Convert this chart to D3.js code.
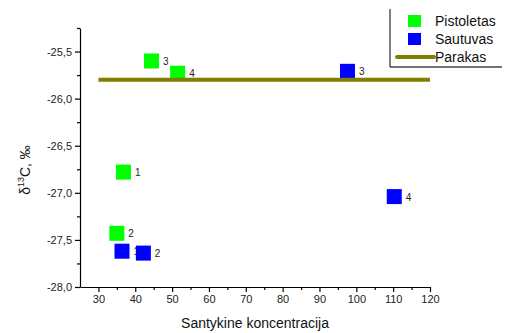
<!DOCTYPE html>
<html>
<head>
<meta charset="utf-8">
<script src="https://cdn.jsdelivr.net/npm/d3@7"></script>
<style>
  body { margin: 0; background: #fff; }
  svg { font-family: "Liberation Sans", Arial, sans-serif; }
</style>
</head>
<body>
<svg id="chart"></svg>
<script>
// data
const pistoletasX = [36.8, 35.0, 44.4, 51.5];
const pistoletasY = [-26.78, -27.43, -25.6, -25.73];
const pistoletasLabels = ["1", "2", "3", "4"];

const sautuvasX = [36.4, 42.2, 97.6, 110.3];
const sautuvasY = [-27.62, -27.64, -25.71, -27.04];
const sautuvasLabels = ["1", "2", "3", "4"];

const parakasX = [30, 120];
const parakasY = [-25.8, -25.8];

const xTicks = [30, 40, 50, 60, 70, 80, 90, 100, 110, 120];
const yTicks = [-28.0, -27.5, -27.0, -26.5, -26.0, -25.5];

const width = 505;
const height = 333;
const margin = { top: 28, right: 75, bottom: 46, left: 80 };

const svg = d3.select("#chart").attr("width", width).attr("height", height);

const x = d3.scaleLinear().domain([25, 120]).range([margin.left, width - margin.right]);
const y = d3.scaleLinear().domain([-28, -25.25]).range([height - margin.bottom, margin.top]);

const fmt = (d) => d3.format(".1f")(d).replace(".", ",").replace("−", "-");

// axes
svg.append("g")
  .attr("transform", `translate(0,${y(-28)})`)
  .call(d3.axisBottom(x).tickValues(xTicks).tickSize(5).tickSizeOuter(0));
svg.append("g")
  .attr("transform", `translate(0,${y(-28)})`)
  .call(d3.axisBottom(x).tickValues(d3.range(35, 120, 10)).tickSize(3).tickFormat("").tickSizeOuter(0))
  .select(".domain").remove();

svg.append("g")
  .attr("transform", `translate(${margin.left},0)`)
  .call(d3.axisLeft(y).tickValues(yTicks).tickFormat(fmt).tickSize(5).tickSizeOuter(0));
svg.append("g")
  .attr("transform", `translate(${margin.left},0)`)
  .call(d3.axisLeft(y).tickValues(d3.range(-27.75, -25.2, 0.5)).tickSize(3).tickFormat("").tickSizeOuter(0))
  .select(".domain").remove();

svg.selectAll(".tick text").style("font-size", "11px").attr("fill", "#222");
svg.selectAll(".domain, .tick line").attr("stroke", "#000").attr("stroke-width", 1.2);

// axis titles
svg.append("text")
  .attr("x", (margin.left + width - margin.right) / 2)
  .attr("y", 328)
  .attr("text-anchor", "middle")
  .style("font-size", "14px")
  .attr("fill", "#111")
  .text("Santykine koncentracija");

const yTitle = svg.append("text")
  .attr("transform", "translate(30,170) rotate(-90)")
  .attr("text-anchor", "middle")
  .style("font-size", "14px")
  .attr("fill", "#111");
yTitle.append("tspan").text("δ");
yTitle.append("tspan").attr("dy", -6).style("font-size", "9px").text("13");
yTitle.append("tspan").attr("dy", 6).text("C, ‰");

// points
const size = 15;
function drawSeries(xs, ys, labels, color) {
  xs.forEach((d, i) => {
    svg.append("rect")
      .attr("x", x(d) - size / 2)
      .attr("y", y(ys[i]) - size / 2)
      .attr("width", size)
      .attr("height", size)
      .attr("fill", color);
    svg.append("text")
      .attr("x", x(d) + size / 2 + 4)
      .attr("y", y(ys[i]) + 4)
      .style("font-size", "10px")
      .attr("fill", "#222")
      .text(labels[i]);
  });
}
drawSeries(pistoletasX, pistoletasY, pistoletasLabels, "#00ff00");
drawSeries(sautuvasX, sautuvasY, sautuvasLabels, "#0000ff");

// Parakas line
const line = d3.line().x((d, i) => x(parakasX[i])).y((d) => y(d));
svg.append("path")
  .datum(parakasY)
  .attr("fill", "none")
  .attr("stroke", "#808000")
  .attr("stroke-width", 4)
  .attr("d", line);

// legend
const legend = svg.append("g");
legend.append("line").attr("x1", 390).attr("x2", 390).attr("y1", 9).attr("y2", 67)
  .attr("stroke", "#000").attr("stroke-width", 1);
legend.append("line").attr("x1", 390).attr("x2", 502).attr("y1", 67).attr("y2", 67)
  .attr("stroke", "#444").attr("stroke-width", 1.5);

const legendData = [
  { label: "Pistoletas", color: "#00ff00", type: "rect" },
  { label: "Sautuvas", color: "#0000ff", type: "rect" },
  { label: "Parakas", color: "#808000", type: "line" },
];
legendData.forEach((d, i) => {
  const row = legend.append("g").attr("transform", `translate(0,${21 + i * 18})`);
  if (d.type === "rect") {
    row.append("rect").attr("x", 408).attr("y", -6).attr("width", 13).attr("height", 12).attr("fill", d.color);
  } else {
    row.append("line").attr("x1", 397).attr("x2", 434).attr("y1", 0).attr("y2", 0)
      .attr("stroke", d.color).attr("stroke-width", 4).attr("stroke-linecap", "round");
  }
  row.append("text")
    .attr("x", 435)
    .attr("y", 5)
    .style("font-size", "14px")
    .attr("fill", "#111")
    .text(d.label);
});
</script>
</body>
</html>
